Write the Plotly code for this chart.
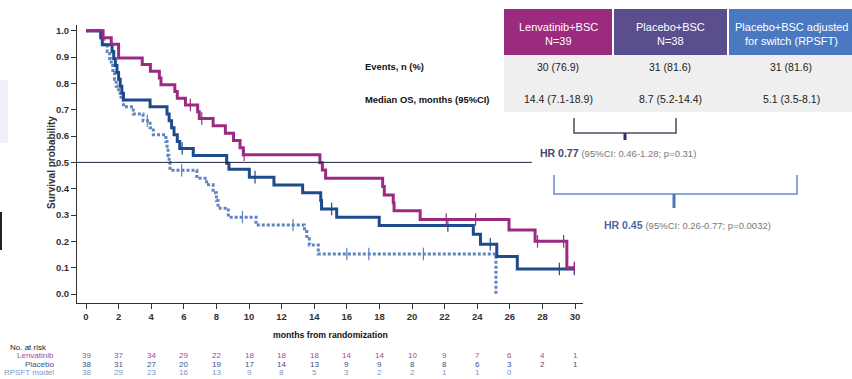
import numpy as np
import plotly.graph_objects as go

# ---- Kaplan-Meier step data (time in months, survival after each event) ----
lenv_t = [0, 1.05, 1.55, 2.0, 3.45, 3.95, 4.5, 4.6, 5.45, 5.6, 6.1, 6.85, 6.95, 7.8, 8.55,
          9.05, 9.45, 9.65, 14.35, 14.5, 14.7, 18.2, 18.3, 18.85, 18.9, 20.5, 25.95, 27.55,
          29.5, 30.0]
lenv_s = [1.0, 0.974, 0.949, 0.897, 0.872, 0.846, 0.821, 0.795, 0.769, 0.744, 0.718, 0.692,
          0.667, 0.639, 0.611, 0.583, 0.556, 0.529, 0.499, 0.471, 0.440, 0.408, 0.376, 0.347,
          0.316, 0.283, 0.243, 0.200, 0.100, 0.100]
lenv_cens = [6.4, 7.1, 9.7, 22.1, 23.9, 27.7, 29.3, 29.96]

plac_t = [0, 0.9, 1.0, 1.6, 1.7, 1.8, 1.9, 2.0, 2.1, 2.2, 2.3, 3.93, 4.97, 5.1, 5.25, 5.4,
          5.6, 5.75, 6.58, 8.63, 8.77, 10.02, 11.53, 13.29, 14.4, 14.45, 15.38, 17.99, 23.76,
          24.2, 25.2, 26.46, 30.0]
plac_s = [1.0, 0.974, 0.947, 0.921, 0.895, 0.868, 0.842, 0.816, 0.789, 0.763, 0.737, 0.711,
          0.684, 0.658, 0.632, 0.605, 0.579, 0.553, 0.526, 0.497, 0.474, 0.444, 0.414, 0.385,
          0.355, 0.323, 0.292, 0.260, 0.227, 0.189, 0.142, 0.095, 0.095]
plac_cens = [5.9, 10.37, 15.07, 22.2, 24.8, 29.04, 29.96]

rpsft_t = [0, 0.96, 1.1, 1.3, 1.45, 1.55, 1.65, 1.75, 1.85, 2.0, 2.15, 2.3, 2.9, 3.5, 3.93,
           4.13, 4.9, 4.97, 5.03, 5.1, 5.15, 6.8, 7.4, 7.8, 8.0, 8.1, 8.73, 10.43, 13.4,
           13.55, 13.7, 14.25, 25.15]
rpsft_s = [1.0, 0.974, 0.947, 0.921, 0.895, 0.868, 0.842, 0.816, 0.789, 0.763, 0.737, 0.711,
           0.684, 0.658, 0.632, 0.605, 0.579, 0.553, 0.526, 0.5, 0.47, 0.44, 0.415, 0.385,
           0.355, 0.326, 0.292, 0.262, 0.237, 0.21, 0.186, 0.152, 0.0]
rpsft_cens = [3.76, 5.87, 9.6, 12.7, 16.0, 17.35, 20.7]

# ---- numbers at risk ----
risk_times = [0, 2, 4, 6, 8, 10, 12, 14, 16, 18, 20, 22, 24, 26, 28, 30]
risk_lenv = [39, 37, 34, 29, 22, 18, 18, 18, 14, 14, 10, 9, 7, 6, 4, 1]
risk_plac = [38, 31, 27, 20, 19, 17, 14, 13, 9, 9, 8, 8, 6, 3, 2, 1]
risk_rpsft = [38, 29, 23, 16, 13, 9, 8, 5, 3, 2, 2, 1, 1, 0]

# ---- summary table ----
col_headers = [("Lenvatinib+BSC", "N=39"), ("Placebo+BSC", "N=38"),
               ("Placebo+BSC adjusted", "for switch (RPSFT)")]
row_labels = ["Events, n (%)", "Median OS, months (95%CI)"]
events = ["30 (76.9)", "31 (81.6)", "31 (81.6)"]
median_os = ["14.4 (7.1-18.9)", "8.7 (5.2-14.4)", "5.1 (3.5-8.1)"]
hr_main = ["HR 0.77", "HR 0.45"]
hr_detail = ["(95%CI: 0.46-1.28; p=0.31)", "(95%CI: 0.26-0.77; p=0.0032)"]

C_LENV = "#9B2A83"
C_PLAC = "#1F4B8C"
C_RPSFT = "#5E84C2"
FONT = "Liberation Sans, Arial, sans-serif"

W, H = 852, 379


def px(x):
    return x / W


def py(y):
    return 1 - y / H


def surv_at(times, surv, t):
    idx = np.searchsorted(np.asarray(times), np.asarray(t), side="right") - 1
    return np.asarray(surv)[idx]


fig = go.Figure()

for t, s, cens, color, dash in [
    (rpsft_t, rpsft_s, rpsft_cens, C_RPSFT, "3px,2px"),
    (plac_t, plac_s, plac_cens, C_PLAC, "solid"),
    (lenv_t, lenv_s, lenv_cens, C_LENV, "solid"),
]:
    fig.add_trace(go.Scatter(x=t, y=s, mode="lines", line=dict(color=color, width=3, dash=dash, shape="hv"),
                             showlegend=False, hoverinfo="skip"))
    fig.add_trace(go.Scatter(x=cens, y=surv_at(t, s, cens), mode="markers",
                             marker=dict(symbol="line-ns", size=9, line=dict(color=color, width=1.2)),
                             showlegend=False, hoverinfo="skip"))

# median reference line at 0.5
fig.add_shape(type="line", xref="x", yref="y", x0=-0.55, x1=27.35, y0=0.5, y1=0.5,
              line=dict(color="#1B2440", width=1))

tick_font = dict(size=9.5, family=FONT, weight="bold", color="#333")
fig.update_layout(
    width=W, height=H, margin=dict(l=0, r=0, t=0, b=0),
    paper_bgcolor="white", plot_bgcolor="white",
    font=dict(family=FONT, color="#333"),
    xaxis=dict(domain=[px(77), px(583)], range=[-0.552, 30.49], tickvals=risk_times,
               showgrid=False, zeroline=False, showline=True, linecolor="#333", linewidth=1,
               ticks="outside", ticklen=5, tickcolor="#333", tickfont=tick_font),
    yaxis=dict(domain=[py(303), py(25)], range=[-0.0342, 1.022], tickvals=[i / 10 for i in range(11)],
               tickformat=".1f", showgrid=False, zeroline=False, showline=True, linecolor="#333",
               linewidth=1, ticks="outside", ticklen=5, tickcolor="#333", tickfont=tick_font),
)

ann = []


def text(t, x, y, size, color="#222", xanchor="center", xref="paper", bold=False, angle=0):
    ann.append(dict(text=t, x=x if xref != "paper" else px(x), y=py(y), xref=xref, yref="paper",
                    xanchor=xanchor, yanchor="middle", showarrow=False, textangle=angle,
                    font=dict(size=size, color=color, family=FONT, weight="bold" if bold else "normal")))


text("Survival probability", 52, 163, 10, "#333", bold=True, angle=-90)
text("months from randomization", 330, 335, 8.7, "#111", bold=True)

# numbers at risk
text("No. at risk", 8, 347, 8, "#222", xanchor="left")
for label, vals, color, yy in [("Lenvatinib", risk_lenv, "#A845A0", 355.5),
                               ("Placebo", risk_plac, "#3D4F86", 364),
                               ("RPSFT model", risk_rpsft, "#7397CF", 372.5)]:
    text(label, 56, yy, 8, color, xanchor="right")
    for t, v in zip(risk_times, vals):
        text(str(v), t, yy, 8, color, xref="x")

# summary table
cells = [(504, 612, "#9B2B7F", 558), (614, 727, "#5B4E8E", 670), (729, 860, "#4A79C2", 791)]
fig.add_shape(type="rect", xref="paper", yref="paper", x0=px(504), x1=1.0, y0=py(112), y1=py(55),
              fillcolor="#EFEFEF", line=dict(width=0), layer="below")
for (x0, x1, fill, cx), head, ev, med in zip(cells, col_headers, events, median_os):
    fig.add_shape(type="rect", xref="paper", yref="paper", x0=px(x0), x1=px(x1), y0=py(55), y1=py(9),
                  fillcolor=fill, line=dict(width=0))
    text(head[0], cx, 26.5, 11, "white")
    text(head[1], cx, 41, 11, "white")
    text(ev, cx, 67, 10.5, "#222")
    text(med, cx, 99, 10.5, "#222")
for lab, yy in zip(row_labels, [67, 99]):
    text(lab, 363, yy, 9.4, "#111", xanchor="left", bold=True)

# hazard ratio brackets
for (x0, x1, ytop, ybot, xt, ytick, color, tick_color) in [
        (574, 676, 118, 133, 625, 140, "#4A4F66", "#2A3560"),
        (554, 797, 175, 194, 674, 208, "#6A8CC8", "#4E74B8")]:
    fig.add_shape(type="path", xref="paper", yref="paper",
                  path=f"M {px(x0)},{py(ytop)} L {px(x0)},{py(ybot)} L {px(x1)},{py(ybot)} L {px(x1)},{py(ytop)}",
                  line=dict(color=color, width=1.5))
    fig.add_shape(type="line", xref="paper", yref="paper", x0=px(xt), x1=px(xt), y0=py(ybot), y1=py(ytick),
                  line=dict(color=tick_color, width=3))

for main, detail, xx, yy, color in [(hr_main[0], hr_detail[0], 538, 153, "#3E4872"),
                                    (hr_main[1], hr_detail[1], 602, 225, "#4A68A6")]:
    text(f"<b>{main}</b> <span style='font-size:9.5px;color:#7A7A7A'>{detail}</span>",
         xx, yy, 10.5, color, xanchor="left")

# slide edge remnants
fig.add_shape(type="rect", xref="paper", yref="paper", x0=0, x1=px(8), y0=py(143), y1=py(80),
              fillcolor="#EEF0F8", line=dict(width=0), layer="below")
fig.add_shape(type="rect", xref="paper", yref="paper", x0=0, x1=px(2), y0=py(250), y1=py(212),
              fillcolor="#222", line=dict(width=0))

fig.update_layout(annotations=ann)
fig.write_html("out.html")
